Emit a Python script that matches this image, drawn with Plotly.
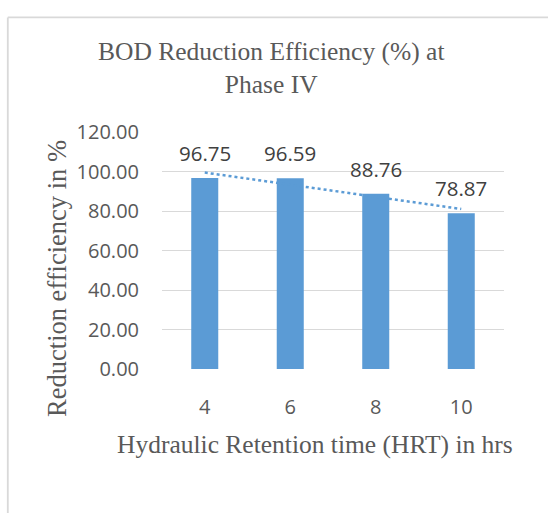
import numpy as np
import plotly.graph_objects as go

categories = ["4", "6", "8", "10"]
values = [96.75, 96.59, 88.76, 78.87]
y_ticks = [0, 20, 40, 60, 80, 100, 120]
y_tick_labels = ["0.00", "20.00", "40.00", "60.00", "80.00", "100.00", "120.00"]

W, H = 548, 513
L, R, T, B = 162, 504, 131.7, 369.3

def px(x):
    return (x - L) / (R - L)

def py(y):
    return (B - y) / (B - T)

# Linear trendline (Excel style) fitted on category index
idx = np.arange(1, len(values) + 1)
slope, intercept = np.polyfit(idx, values, 1)
trend = slope * idx + intercept

blue = "#5B9BD5"
grey_text = "#595959"
sans = "Open Sans, Liberation Sans, sans-serif"
serif = "Liberation Serif, Times New Roman, serif"

fig = go.Figure()
fig.add_trace(go.Bar(x=categories, y=values, marker=dict(color=blue, line=dict(width=0)),
                     width=0.316, showlegend=False, hoverinfo="skip"))
fig.add_trace(go.Scatter(x=categories, y=trend, mode="lines",
                         line=dict(color=blue, width=2.5, dash="dot"),
                         showlegend=False, hoverinfo="skip"))

for i, v in enumerate(values):
    fig.add_annotation(x=i, y=v, text=f"{v:.2f}", showarrow=False, yanchor="middle",
                       yshift=25, font=dict(family=sans, size=20.5, color="#404040"))

# Y axis title
fig.add_annotation(x=px(57), y=py(279), xref="paper", yref="paper",
                   text="Reduction efficiency in %", textangle=-90, showarrow=False,
                   xanchor="center", yanchor="middle",
                   font=dict(family=serif, size=26.5, color=grey_text))
# X axis title
fig.add_annotation(x=px(314.5), y=py(445), xref="paper", yref="paper",
                   text="Hydraulic Retention time (HRT) in hrs", showarrow=False,
                   xanchor="center", yanchor="middle",
                   font=dict(family=serif, size=25.5, color=grey_text))
# Title
fig.add_annotation(x=px(271), y=py(68), xref="paper", yref="paper",
                   text="BOD Reduction Efficiency (%) at<br>Phase IV", showarrow=False,
                   xanchor="center", yanchor="middle",
                   font=dict(family=serif, size=25.5, color=grey_text))

# chart border
fig.add_shape(type="line", xref="paper", yref="paper", x0=px(7.8), x1=px(560),
              y0=py(16.8), y1=py(16.8), line=dict(color="#D9D9D9", width=1.8))
fig.add_shape(type="line", xref="paper", yref="paper", x0=px(7.8), x1=px(7.8),
              y0=py(16.8), y1=py(530), line=dict(color="#D9D9D9", width=1.8))

fig.update_layout(
    width=W, height=H, autosize=False,
    margin=dict(l=L, r=W - R, t=T, b=H - B, pad=0),
    plot_bgcolor="white", paper_bgcolor="white",
    bargap=0.684,
    xaxis=dict(type="category", showgrid=False, zeroline=False, showline=False,
               ticks="outside", ticklen=20, tickcolor="rgba(0,0,0,0)",
               tickfont=dict(family=sans, size=20, color=grey_text)),
    yaxis=dict(range=[0, 120], tickvals=y_ticks, ticktext=y_tick_labels,
               showgrid=True, gridcolor="#D9D9D9", gridwidth=1.3, zeroline=False,
               showline=False, ticks="outside", ticklen=18, tickcolor="rgba(0,0,0,0)",
               tickfont=dict(family=sans, size=20, color=grey_text)),
)

fig.write_html("out.html", config={"displayModeBar": False},
               post_script="document.body.style.margin='0';")
